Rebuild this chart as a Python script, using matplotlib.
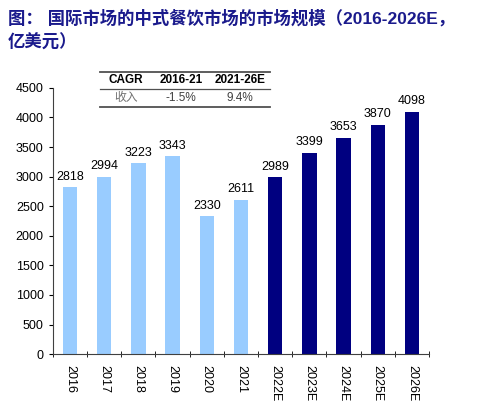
import matplotlib.pyplot as plt
import numpy as np

plt.rcParams['font.family'] = ['Liberation Sans', 'Noto Sans CJK SC', 'DejaVu Sans']

years = ["2016", "2017", "2018", "2019", "2020", "2021",
         "2022E", "2023E", "2024E", "2025E", "2026E"]
values = [2818, 2994, 3223, 3343, 2330, 2611, 2989, 3399, 3653, 3870, 4098]
n_actual = 6

cagr_header = ["CAGR", "2016-21", "2021-26E"]
cagr_row = ["收入", "-1.5%", "9.4%"]

light = "#99CCFF"
dark = "#000080"

fig = plt.figure(figsize=(4.8, 4.07), dpi=100)
ax = fig.add_axes([0.110, 0.130, 0.784, 0.654])

x = np.arange(len(years))
colors = [light] * n_actual + [dark] * (len(years) - n_actual)
ax.bar(x, values, width=0.42, color=colors)

for xi, v in zip(x, values):
    ax.text(xi, v + 80, str(v), ha="center", va="bottom", fontsize=9)

ax.set_xlim(-0.5, len(years) - 0.5)
ax.set_ylim(0, 4500)
ax.set_yticks(range(0, 4501, 500))
ax.tick_params(axis="y", labelsize=9, length=3, direction="out")
ax.set_xticks(x)
ax.set_xticklabels(years, rotation=-90, fontsize=9)
ax.tick_params(axis="x", length=0, pad=8)
ax.set_xticks(np.arange(-0.5, len(years), 1), minor=True)
ax.tick_params(axis="x", which="minor", length=4, direction="inout")
for s in ["top", "right"]:
    ax.spines[s].set_visible(False)
for s in ["left", "bottom"]:
    ax.spines[s].set_color("#404040")

# CAGR table
col_x = [126, 181, 240]
for cx, h in zip(col_x, cagr_header):
    fig.text(cx / 480, 1 - 80 / 407, h, ha="center", va="center",
             fontsize=8.5, fontweight="bold")
for i, (cx, t) in enumerate(zip(col_x, cagr_row)):
    fig.text(cx / 480, 1 - 98 / 407, t, ha="center", va="center",
             fontsize=8.5, color="#404040" if i else "#707070")
for yy, lw in [(72, 1.3), (89, 0.9), (107, 1.3)]:
    fig.add_artist(plt.Line2D([100 / 480, 270 / 480], [1 - yy / 407] * 2,
                              color="#505050", lw=lw))

# title
title_kw = dict(fontsize=12.5, fontweight="bold", color="#1a1a8c",
                family=["Liberation Sans", "Noto Sans CJK SC"], va="center")
fig.text(8 / 480, 1 - 18 / 407, "图： 国际市场的中式餐饮市场的市场规模（2016-2026E，", **title_kw)
fig.text(8 / 480, 1 - 42 / 407, "亿美元）", **title_kw)

fig.savefig("out.png", dpi=100)
